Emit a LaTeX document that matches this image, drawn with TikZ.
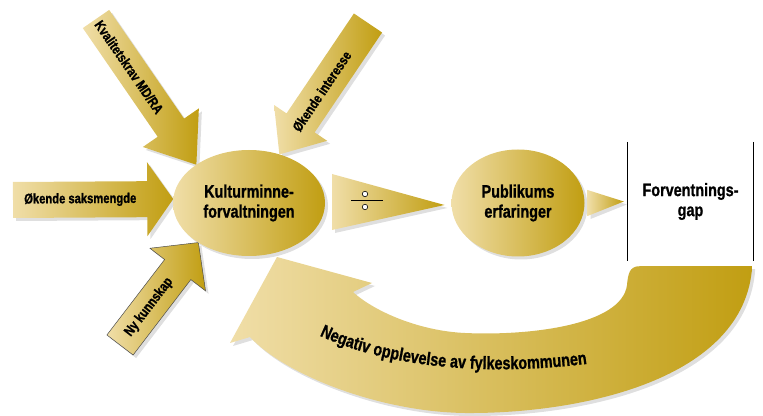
\documentclass[tikz,border=0pt]{standalone}
\usepackage{fontspec}
\setmainfont{Liberation Sans}[FakeStretch=0.8, BoldFeatures={FakeBold=1}]
\usetikzlibrary{%
    backgrounds,
    calc,
    decorations.text,
    shadows,
    shapes.geometric
}
\definecolor{goldlight}{RGB}{240,222,168}
\definecolor{golddark}{RGB}{193,158,18}

\begin{document}
\begin{tikzpicture}[x=1pt, y=1pt,
    goldfill/.style={left color=goldlight, right color=golddark,
                     drop shadow={shadow xshift=3pt, shadow yshift=-3pt,
                                  opacity=.25}},
    bubble/.style={ellipse, goldfill, inner sep=0pt, outer sep=0pt,
                   align=center, font=\bfseries\fontsize{18}{20}\selectfont},
    armlabel/.style={font=\bfseries\fontsize{14}{16}\selectfont,
                     inner sep=0pt}
   ]
    \useasboundingbox (0,0) rectangle (763,415);

    \node[bubble, minimum width=152pt, minimum height=106pt]
        (kultur) at (249,212) {Kulturminne-\\forvaltningen};
    \node[bubble, minimum width=133pt, minimum height=107pt]
        (publikum) at (518,212) {Publikums\\erfaringer};
    \node[minimum width=125pt, minimum height=119pt, align=center,
          font=\bfseries\fontsize{18}{20}\selectfont]
        (gap) at (690.5,213.5) {Forventnings-\\gap};
    \draw[line width=.8pt] (gap.north west) -- (gap.south west)
                           (gap.north east) -- (gap.south east);

    % wedges between the bubbles
    \path[goldfill] ($(kultur.east)+(7,29)$) -- ($(publikum.west)+(-7,-2)$)
        -- ($(kultur.east)+(7,-27)$) -- cycle;
    \path[goldfill] ($(publikum.east)+(3,13)$) -- ($(gap.west)+(-4,0)$)
        -- ($(publikum.east)+(3,-13)$) -- cycle;
    \coordinate (minus) at (367,215);
    \draw[line width=.6pt] ($(minus)+(-16,0)$) -- ($(minus)+(16,0)$);
    \draw[line width=.6pt, fill=white] ($(minus)+(-2,6)$) circle (2.7)
                                       ($(minus)+(-2,-7)$) circle (2.7);

    % feedback arrow back to the bubble
    \coordinate (backtip) at ($(kultur.south)+(28,-1)$);
    \path[goldfill]
        ($(gap.south east)+(-1,-5)$) -- ($(gap.south west)+(12,-5)$)
        .. controls (629,149) and (628,140) .. (627,130)
        .. controls (622,90) and (530,79) .. (465,82)
        .. controls (420,84) and (375,103) .. (353,123)
        -- (372,132) -- (backtip) -- (230,72) -- (250,78)
        .. controls (285,40) and (380,3) .. (465,2)
        .. controls (580,1) and (745,35) .. ($(gap.south east)+(-1,-5)$)
        -- cycle;
    \path[decorate, decoration={text along path, text align=center,
          text={|\bfseries\fontsize{18}{20}\selectfont|Negativ opplevelse av fylkeskommunen}}]
        (306,86) .. controls (370,52) and (470,35) .. (602,53);

    % inputs
    \coordinate (saks) at (13,215);
    \coordinate (kval) at (96,396);
    \coordinate (int)  at (368,392);
    \coordinate (ny)   at (120,70);

    \begin{pgfonlayer}{background}
        \foreach \Tail/\Tip/\Shaft/\Head/\Len/\Frame/\Pos/\Text in {%
            saks/kultur.177/18pt/37pt/26pt/0/.42/{Økende saksmengde},%
            kval/kultur.144/16pt/34pt/45pt/0/.33/{Kvalitetskrav MD\slash RA},%
            int/kultur.58/17pt/32pt/38pt/0/.52/{Økende interesse},%
            ny/kultur.218/16.5pt/35pt/34pt/1/.37/{Ny kunnskap}%
            }{
            \coordinate (base) at ($(\Tip)!\Len!(\Tail)$);
            \path[goldfill, draw=black!70, draw opacity=\Frame, line width=.5pt]
                ($(\Tail)!\Shaft!90:(\Tip)$) -- ($(base)!\Shaft!90:(\Tip)$)
                -- ($(base)!\Head!90:(\Tip)$) -- (\Tip)
                -- ($(base)!\Head!-90:(\Tip)$) -- ($(base)!\Shaft!-90:(\Tip)$)
                -- ($(\Tail)!\Shaft!-90:(\Tip)$) -- cycle;
            \path (\Tail) -- (\Tip) node[armlabel, pos=\Pos, sloped] {\Text};
            }
    \end{pgfonlayer}
\end{tikzpicture}
\end{document}
